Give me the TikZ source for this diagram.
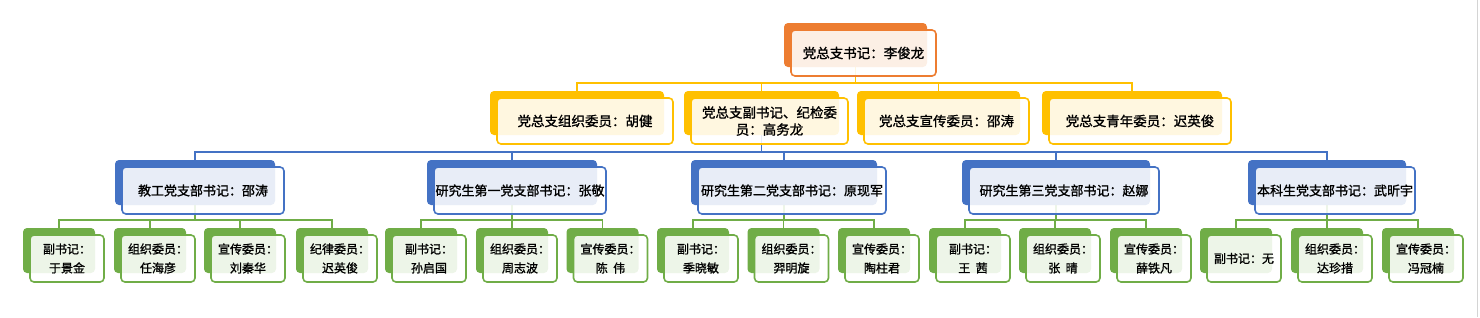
\documentclass[tikz,border=0pt]{standalone}
\usepackage{fontspec}
\setmainfont{Noto Sans CJK SC}[AutoFakeBold=1.2]
\definecolor{corange}{HTML}{ED7D31}
\definecolor{cgold}{HTML}{FFC000}
\definecolor{cblue}{HTML}{4472C4}
\definecolor{cgreen}{HTML}{70AD47}
\definecolor{cedge}{HTML}{D4D4D4}
\pgfdeclarelayer{bg}
\pgfsetlayers{bg,main}
\tikzset{
  backbox/.style={fill=#1, draw=none, rounded corners=4pt, inner sep=0pt, outer sep=0pt},
  frontbox/.style={fill=white, fill opacity=0.88, text opacity=1, draw=#1, line width=1.6pt,
     rounded corners=4pt, inner sep=0pt, outer sep=0pt, align=center},
  conn/.style={draw=#1, line width=1.8pt},
  lvA/.style={font=\fontsize{13.5}{17}\selectfont\bfseries},
  lvB/.style={font=\fontsize{13}{18}\selectfont\bfseries},
  lvC/.style={font=\fontsize{12.5}{18}\selectfont\bfseries},
  lvD/.style={font=\fontsize{12}{19}\selectfont\bfseries},
}
% name, colour, back centre x, back centre y, width, height, text, text style
\newcommand\obox[8]{%
  \node[backbox=#2, minimum width=#5pt, minimum height=#6pt] (#1-b) at (#3,#4) {};
  \node[frontbox=#2, minimum width=#5pt+2pt, minimum height=#6pt+2pt, #8] (#1) at (#3+8,#4+8) {#7};
}
\newcommand\gbox[3]{\obox{#1}{cgreen}{#2}{250.5}{72}{45}{#3}{lvD}}
\begin{document}
\begin{tikzpicture}[x=1pt,y=-1pt]
\useasboundingbox (0,0) rectangle (1480,317);
\draw[cedge, line width=1pt] (1477.5,0) -- (1477.5,317);
% level 1
\obox{top}{corange}{855.5}{45}{143}{44}{党总支书记：李俊龙}{lvA}
% level 2
\obox{zz}{cgold}{577}{113}{174}{44}{党总支组织委员：胡健}{lvA}
\obox{fs}{cgold}{761.5}{113}{155}{44}{党总支副书记、纪检委\\员：高务龙}{lvA}
\obox{xc}{cgold}{938.5}{113}{163}{44}{党总支宣传委员：邵涛}{lvA}
\obox{qn}{cgold}{1132}{113}{180}{44}{党总支青年委员：迟英俊}{lvA}
% level 3
\obox{jg}{cblue}{195}{182.5}{160}{45}{教工党支部书记：邵涛}{lvB}
\obox{y1}{cblue}{512}{182.5}{170}{45}{研究生第一党支部书记：张敬}{lvB}
\obox{y2}{cblue}{784}{182.5}{186}{45}{研究生第二党支部书记：原现军}{lvB}
\obox{y3}{cblue}{1056}{182.5}{188}{45}{研究生第三党支部书记：赵娜}{lvB}
\obox{bk}{cblue}{1327}{182.5}{158}{45}{本科生党支部书记：武昕宇}{lvB}
% level 4
\gbox{jg1}{59}{副书记：\\于景金}
\gbox{jg2}{150}{组织委员：\\任海彦}
\gbox{jg3}{240}{宣传委员：\\刘秦华}
\gbox{jg4}{332}{纪律委员：\\迟英俊}
\gbox{ya1}{421}{副书记：\\孙启国}
\gbox{ya2}{512}{组织委员：\\周志波}
\gbox{ya3}{602.5}{宣传委员：\\陈\ \ 伟}
\gbox{yb1}{693}{副书记：\\季晓敏}
\gbox{yb2}{783.5}{组织委员：\\羿明旋}
\gbox{yb3}{874}{宣传委员：\\陶柱君}
\gbox{yc1}{965}{副书记：\\王\ \ 茜}
\gbox{yc2}{1055}{组织委员：\\张\ \ 晴}
\gbox{yc3}{1146}{宣传委员：\\薛铁凡}
\gbox{bk1}{1236}{副书记：无}
\gbox{bk2}{1327}{组织委员：\\达珍措}
\gbox{bk3}{1418}{宣传委员：\\冯冠楠}
% connectors
\begin{pgfonlayer}{bg}
\foreach \c in {zz,fs,xc,qn}
  \draw[conn=cgold] (top-b.center) |- ([yshift=8pt]\c-b.north) -- (\c-b.north);
\foreach \c in {jg,y1,y2,y3,bk}
  \draw[conn=cblue] (fs-b.center) |- ([yshift=8pt]\c-b.north) -- (\c-b.north);
\foreach \p/\c in {jg/jg1,jg/jg2,jg/jg3,jg/jg4,y1/ya1,y1/ya2,y1/ya3,y2/yb1,y2/yb2,y2/yb3,
                   y3/yc1,y3/yc2,y3/yc3,bk/bk1,bk/bk2,bk/bk3}
  \draw[conn=cgreen] (\p-b.center) |- ([yshift=8pt]\c-b.north) -- (\c-b.north);
\end{pgfonlayer}
\end{tikzpicture}
\end{document}
